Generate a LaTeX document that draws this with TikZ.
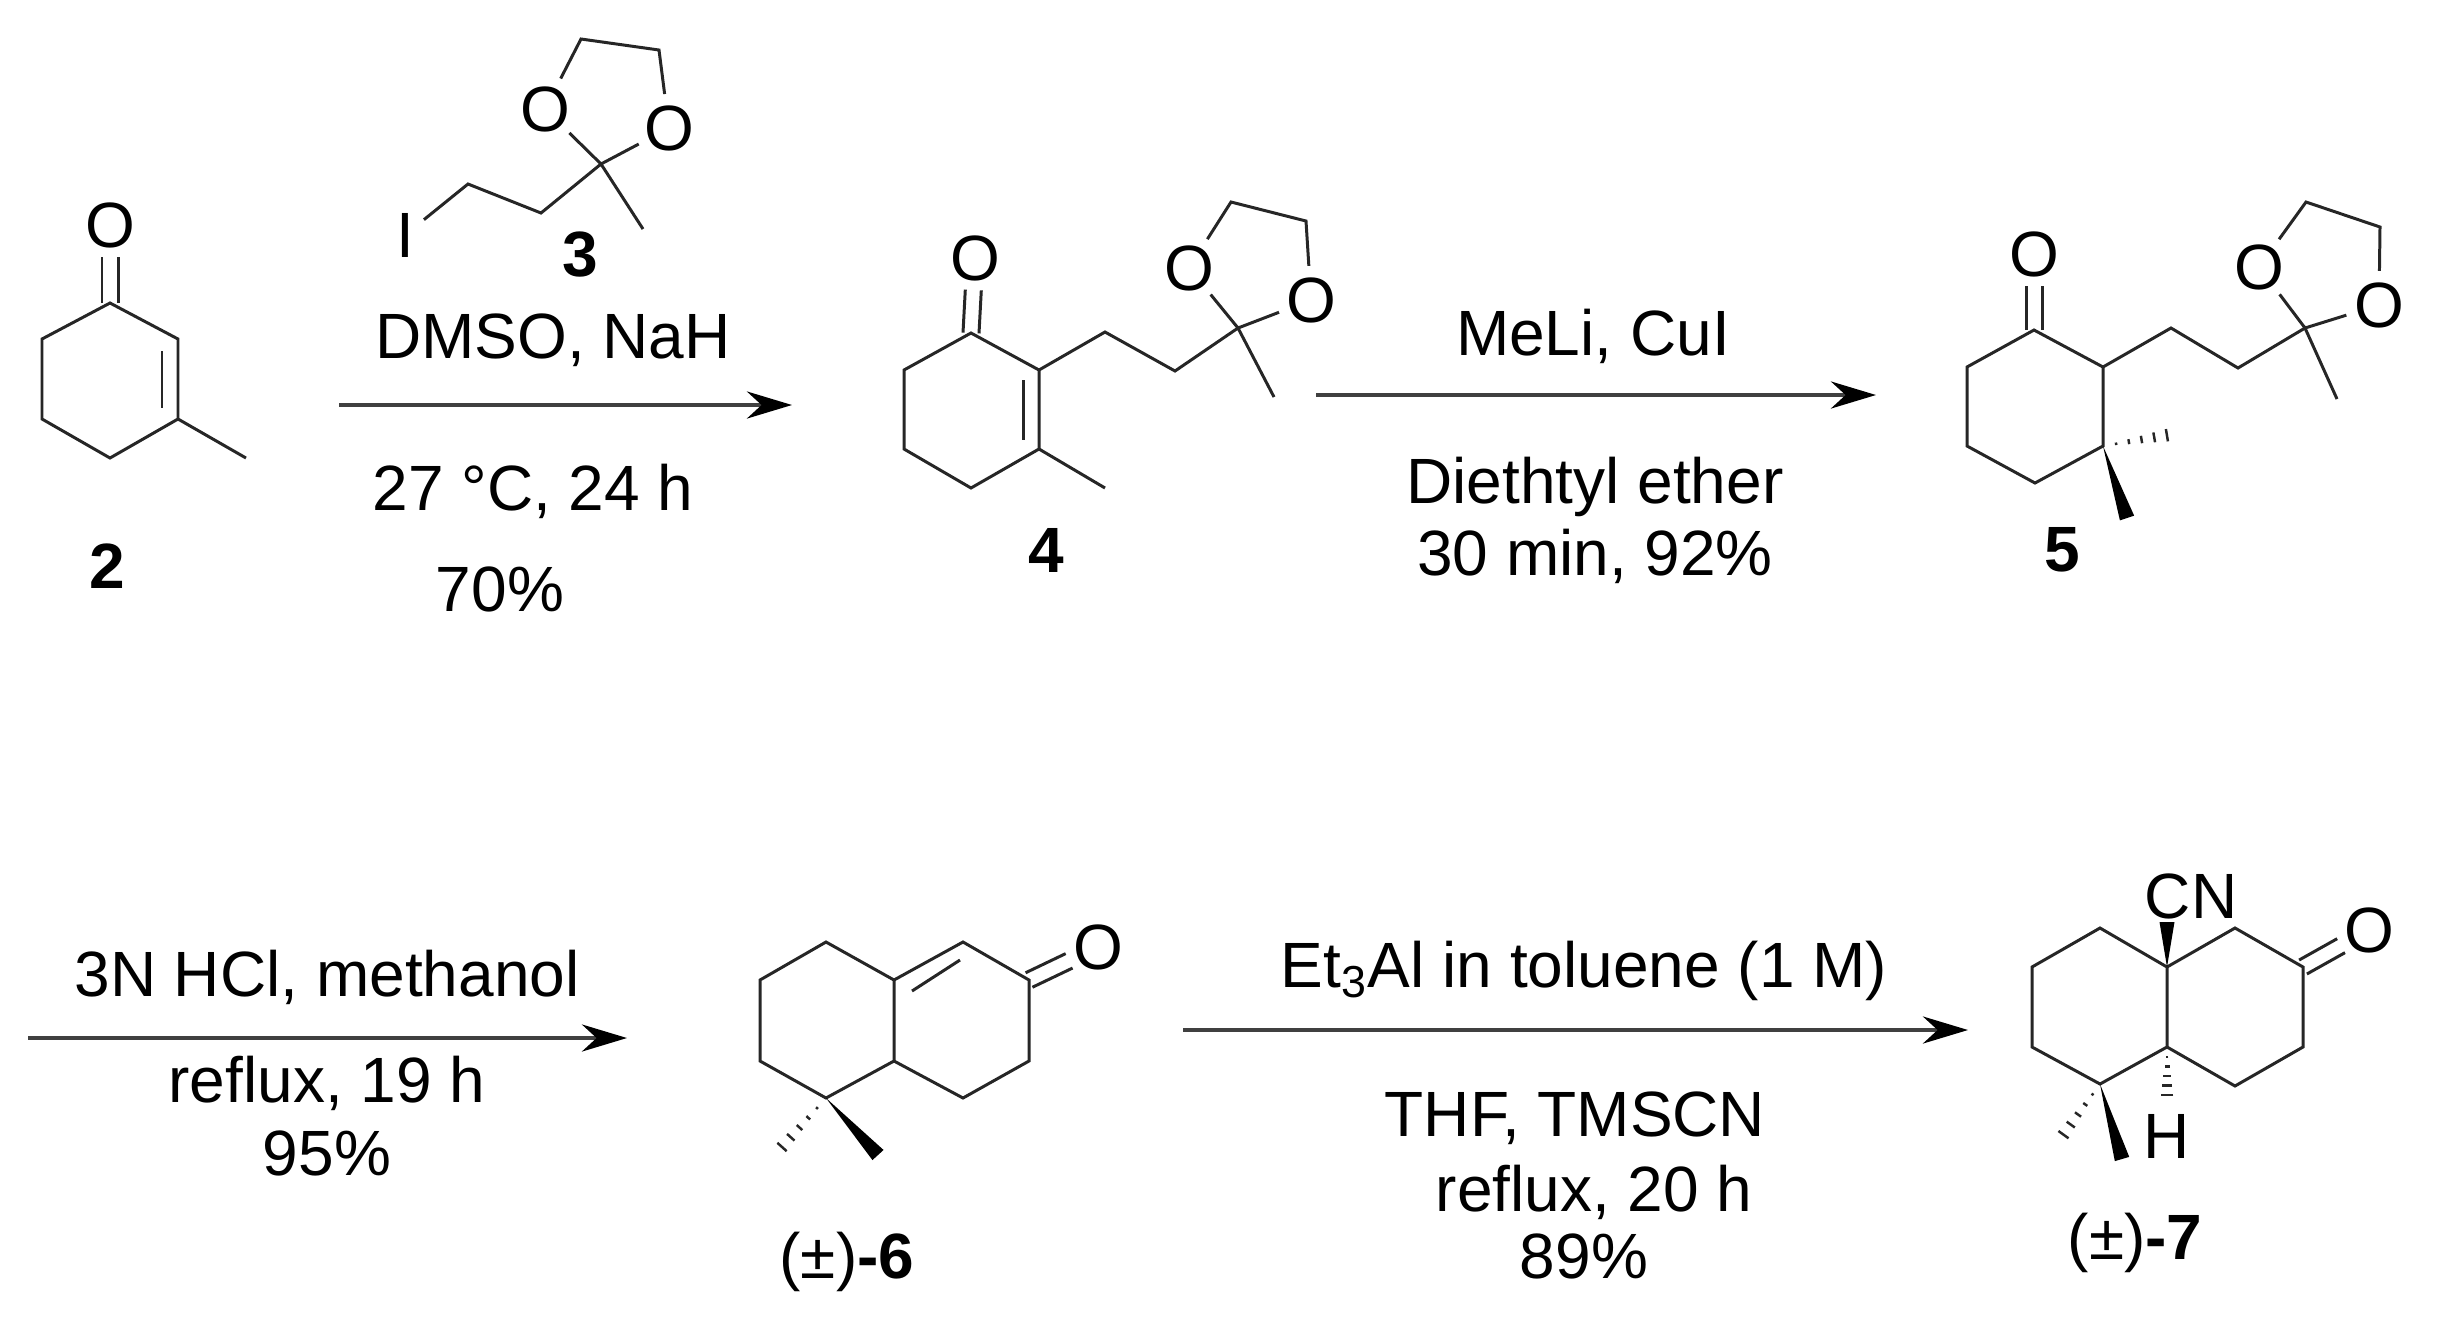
\documentclass[tikz,border=0pt]{standalone}
\usepackage{fontspec}
\setmainfont{Liberation Sans}
\usepackage{tikz}
\usetikzlibrary{calc}
\usetikzlibrary{arrows.meta}

\tikzset{
  bond/.style={line width=0.85pt,line join=miter,color=black!85},
  rxnarrow/.style={line width=1.15pt,color=black!75,-{Stealth[length=4.5mm,width=2.7mm,black]}},
  atom/.style={circle,inner sep=0pt,minimum size=0.66cm,font=\fontsize{18.2}{20}\selectfont},
  atomthin/.style={atom,minimum size=0.42cm},
  reagent/.style={inner sep=0pt,font=\fontsize{18.2}{20}\selectfont},
  cpdlabel/.style={inner sep=0pt,font=\fontsize{18.2}{20}\selectfont\bfseries},
}
% double bond to an atom node, centred on the axis
\newcommand{\dblbond}[2]{
  \draw[bond,shorten >=0.32cm] ($(#1)!0.08cm!90:(#2)$) -- ($(#2)!0.08cm!-90:(#1)$);
  \draw[bond,shorten >=0.32cm] ($(#1)!0.08cm!-90:(#2)$) -- ($(#2)!0.08cm!90:(#1)$);
}
\newcommand{\wedgebond}[2]{
  \fill[black] (#1) -- ($(#2)!0.075cm!90:(#1)$) -- ($(#2)!0.075cm!-90:(#1)$) -- cycle;
}
\newcommand{\hashbond}[2]{
  \foreach \t in {0.17,0.335,0.5,0.665,0.83,1.0} {
    \pgfmathsetmacro\w{0.075*\t}
    \draw[line width=0.7pt,black!85] ($(#1)!\t!(#2)!\w cm!90:(#2)$) -- ($(#1)!\t!(#2)!\w cm!-90:(#2)$);
  }
}

\begin{document}
\begin{tikzpicture}[x=0.01cm,y=-0.01cm]
  \useasboundingbox (0,0) rectangle (2448,1317);

  % compound 2
  \coordinate (c2a) at (110,303);
  \coordinate (c2b) at (178,339);
  \coordinate (c2c) at (178,419);
  \coordinate (c2d) at (110,458);
  \coordinate (c2e) at (42,419);
  \coordinate (c2f) at (42,339);
  \coordinate (c2me) at (246,458);
  \coordinate (c2p) at (162,351);
  \coordinate (c2q) at (162,408);
  \node[atom] (o2) at (110,225) {O};
  \node[cpdlabel] (lab2) at (107,566) {2};
  \draw[bond] (c2a) -- (c2b) -- (c2c) -- (c2d) -- (c2e) -- (c2f) -- cycle;
  \draw[bond] (c2c) -- (c2me);
  \draw[bond] (c2p) -- (c2q);
  \dblbond{c2a}{o2}

  % compound 3
  \coordinate (c3a) at (468,184);
  \coordinate (c3b) at (541,213);
  \coordinate (c3c) at (601,164);
  \coordinate (c3d) at (581,39);
  \coordinate (c3e) at (659,50);
  \coordinate (c3me) at (643,229);
  \node[atomthin] (i3) at (405,235) {I};
  \node[atom] (o3a) at (545,109) {O};
  \node[atom] (o3b) at (669,128) {O};
  \node[cpdlabel] (lab3) at (580,255) {3};
  \draw[bond] (i3) -- (c3a) -- (c3b) -- (c3c) -- (c3me);
  \draw[bond] (o3a) -- (c3c) -- (o3b);
  \draw[bond] (o3a) -- (c3d) -- (c3e) -- (o3b);

  % first arrow
  \coordinate (ar1s) at (339,405);
  \coordinate (ar1e) at (792,405);
  \draw[rxnarrow] (ar1s) -- (ar1e);
  \node[reagent] (r1a) at (553,340) {DMSO, NaH};
  \node[reagent] (r1b) at (533,491) {27 °C, 24 h};
  \node[reagent] (r1c) at (500,589) {70\%};

  % compound 4
  \coordinate (c4a) at (971,333);
  \coordinate (c4b) at (1039,370);
  \coordinate (c4c) at (1039,449);
  \coordinate (c4d) at (971,488);
  \coordinate (c4e) at (904,449);
  \coordinate (c4f) at (904,370);
  \coordinate (c4me) at (1105,488);
  \coordinate (c4p) at (1023,380);
  \coordinate (c4q) at (1023,440);
  \coordinate (c4g) at (1105,332);
  \coordinate (c4h) at (1175,371);
  \coordinate (c4i) at (1238,328);
  \coordinate (c4j) at (1231,202);
  \coordinate (c4k) at (1306,221);
  \coordinate (c4m) at (1274,397);
  \node[atom] (o4) at (975,258) {O};
  \node[atom] (o4a) at (1189,268) {O};
  \node[atom] (o4b) at (1311,300) {O};
  \node[cpdlabel] (lab4) at (1046,550) {4};
  \draw[bond] (c4a) -- (c4b) -- (c4c) -- (c4d) -- (c4e) -- (c4f) -- cycle;
  \draw[bond] (c4c) -- (c4me);
  \draw[bond] (c4p) -- (c4q);
  \draw[bond] (c4b) -- (c4g) -- (c4h) -- (c4i) -- (c4m);
  \draw[bond] (o4a) -- (c4i) -- (o4b);
  \draw[bond] (o4a) -- (c4j) -- (c4k) -- (o4b);
  \dblbond{c4a}{o4}

  % second arrow
  \coordinate (ar2s) at (1316,395);
  \coordinate (ar2e) at (1876,395);
  \draw[rxnarrow,shift={(-6,0)}] (ar2s) -- (ar2e);
  \node[reagent] (r2a) at (1593,336) {MeLi, CuI};
  \node[reagent] (r2b) at (1595,487) {Diethtyl ether};
  \node[reagent] (r2c) at (1595,556) {30 min, 92\%};

  % compound 5
  \coordinate (c5a) at (2034,330);
  \coordinate (c5b) at (2103,367);
  \coordinate (c5c) at (2103,446);
  \coordinate (c5d) at (2035,483);
  \coordinate (c5e) at (1967,446);
  \coordinate (c5f) at (1967,367);
  \coordinate (c5g) at (2171,328);
  \coordinate (c5h) at (2238,368);
  \coordinate (c5i) at (2305,328);
  \coordinate (c5j) at (2306,202);
  \coordinate (c5k) at (2380,227);
  \coordinate (c5m) at (2337,399);
  \coordinate (c5w) at (2127,518);
  \coordinate (c5x) at (2180,433);
  \node[atom] (o5) at (2034,254) {O};
  \node[atom] (o5a) at (2259,267) {O};
  \node[atom] (o5b) at (2379,305) {O};
  \node[cpdlabel] (lab5) at (2062,550) {5};
  \draw[bond] (c5a) -- (c5b) -- (c5c) -- (c5d) -- (c5e) -- (c5f) -- cycle;
  \draw[bond] (c5b) -- (c5g) -- (c5h) -- (c5i) -- (c5m);
  \draw[bond] (o5a) -- (c5i) -- (o5b);
  \draw[bond] (o5a) -- (c5j) -- (c5k) -- (o5b);
  \dblbond{c5a}{o5}
  \wedgebond{c5c}{c5w}
  \hashbond{c5c}{c5x}

  % third arrow
  \coordinate (ar3s) at (28,1038);
  \coordinate (ar3e) at (627,1038);
  \draw[rxnarrow] (ar3s) -- (ar3e);
  \node[reagent] (r3a) at (327,977) {3N HCl, methanol};
  \node[reagent] (r3b) at (327,1083) {reflux, 19 h};
  \node[reagent] (r3c) at (327,1153) {95\%};

  % compound 6
  \coordinate (c6a) at (826,942);
  \coordinate (c6b) at (894,980);
  \coordinate (c6c) at (894,1061);
  \coordinate (c6d) at (826,1098);
  \coordinate (c6e) at (760,1061);
  \coordinate (c6f) at (760,980);
  \coordinate (c6g) at (963,942);
  \coordinate (c6h) at (1029,980);
  \coordinate (c6i) at (1029,1061);
  \coordinate (c6j) at (963,1098);
  \coordinate (c6p) at (912,991);
  \coordinate (c6q) at (960,960);
  \coordinate (c6w) at (878,1155);
  \coordinate (c6x) at (773,1157);
  \node[atom] (o6) at (1098,947) {O};
  \node[cpdlabel] (lab6) at (847,1262) {{\mdseries(±)}-6};
  \draw[bond] (c6a) -- (c6b) -- (c6c) -- (c6d) -- (c6e) -- (c6f) -- cycle;
  \draw[bond] (c6b) -- (c6g) -- (c6h) -- (c6i) -- (c6j) -- (c6c);
  \draw[bond] (c6p) -- (c6q);
  \dblbond{c6h}{o6}
  \wedgebond{c6d}{c6w}
  \hashbond{c6d}{c6x}

  % fourth arrow
  \coordinate (ar4s) at (1183,1030);
  \coordinate (ar4e) at (1968,1030);
  \draw[rxnarrow] (ar4s) -- (ar4e);
  \node[reagent] (r4a) at (1584,971) {Et\textsubscript{3}Al in toluene (1 M)};
  \node[reagent] (r4b) at (1575,1118) {THF, TMSCN};
  \node[reagent] (r4c) at (1594,1192) {reflux, 20 h};
  \node[reagent] (r4d) at (1584,1256) {89\%};

  % compound 7
  \coordinate (c7a) at (2100,928);
  \coordinate (c7b) at (2167,967);
  \coordinate (c7c) at (2167,1047);
  \coordinate (c7d) at (2100,1084);
  \coordinate (c7e) at (2032,1047);
  \coordinate (c7f) at (2032,967);
  \coordinate (c7g) at (2235,928);
  \coordinate (c7h) at (2303,967);
  \coordinate (c7i) at (2303,1047);
  \coordinate (c7j) at (2235,1086);
  \coordinate (c7n) at (2167,922);
  \coordinate (c7w) at (2122,1159);
  \coordinate (c7x) at (2056,1145);
  \coordinate (c7y) at (2167,1105);
  \node[atom] (o7) at (2369,930) {O};
  \node[reagent] (cn7) at (2191,896) {CN};
  \node[reagent] (h7) at (2167,1136) {H};
  \node[cpdlabel] (lab7) at (2135,1243) {{\mdseries(±)}-7};
  \draw[bond] (c7a) -- (c7b) -- (c7c) -- (c7d) -- (c7e) -- (c7f) -- cycle;
  \draw[bond] (c7b) -- (c7g) -- (c7h) -- (c7i) -- (c7j) -- (c7c);
  \dblbond{c7h}{o7}
  \wedgebond{c7b}{c7n}
  \wedgebond{c7d}{c7w}
  \hashbond{c7d}{c7x}
  \hashbond{c7c}{c7y}
\end{tikzpicture}
\end{document}
